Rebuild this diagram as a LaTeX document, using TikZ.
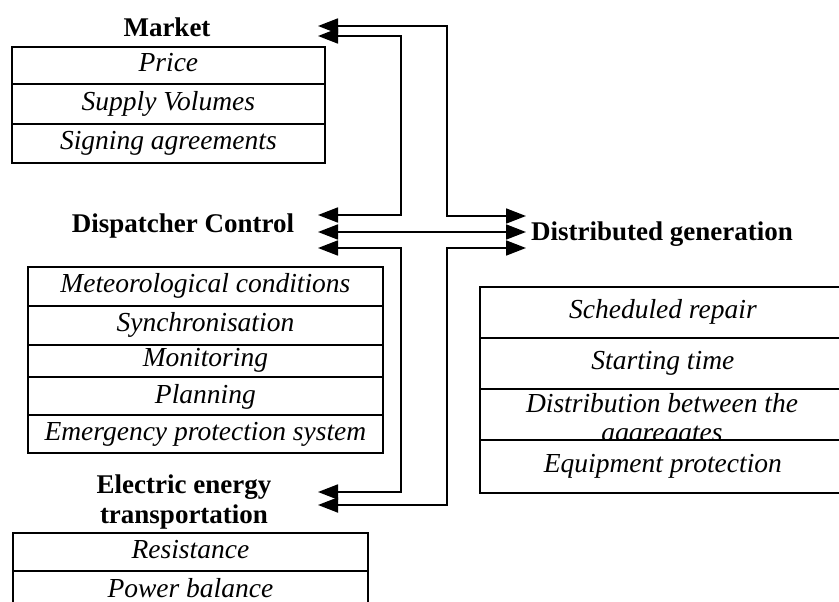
\documentclass[tikz,border=0pt]{standalone}
\usepackage{fontspec}
\setmainfont{Liberation Serif}
\usetikzlibrary{arrows.meta}
\begin{document}
\begin{tikzpicture}[x=1pt,y=-1pt,
  title/.style={font=\fontsize{27}{30}\selectfont\bfseries, inner sep=0pt, anchor=base},
  row/.style={draw, fill=white, line width=1.8pt, anchor=north west, inner sep=0pt,
    font=\fontsize{27.5}{29}\selectfont\itshape, text height=19pt, text depth=6pt},
  itext/.style={font=\fontsize{27.5}{29}\selectfont\itshape, inner sep=0pt, align=center},
  conn/.style={line width=1.8pt, {Triangle[length=20pt,width=15pt]}-{Triangle[length=20pt,width=15pt]}}
]
\useasboundingbox (0,0) rectangle (839,602);
\begin{scope}
\clip (0,0) rectangle (839,602);

% ---- Market
\node[title] (market) at (167,37) {Market};
\node[row, minimum width=313pt, minimum height=37pt] (price) at (11,46) {Price};
\node[row, minimum width=313pt, minimum height=40pt] (supply) at (11,83) {Supply Volumes};
\node[row, minimum width=313pt, minimum height=39pt] (sign) at (11,123) {Signing agreements};

% ---- Dispatcher control
\node[title] (disp) at (183,232) {Dispatcher Control};
\node[row, minimum width=355pt, minimum height=39pt] (meteo) at (27,266) {Meteorological conditions};
\node[row, minimum width=355pt, minimum height=39pt] (sync) at (27,305) {Synchronisation};
\node[row, minimum width=355pt, minimum height=32pt, text height=17pt] (monit) at (27,344) {Monitoring};
\node[row, minimum width=355pt, minimum height=38pt, text height=21pt] (plan) at (27,376) {Planning};
\node[row, minimum width=355pt, minimum height=38pt] (emerg) at (27,414) {Emergency protection system};

% ---- Electric energy transportation
\node[title] (elec1) at (184,493) {Electric energy};
\node[title] (elec2) at (184,523) {transportation};
\node[row, minimum width=355pt, minimum height=38pt] (resist) at (12,532) {Resistance};
\node[row, minimum width=355pt, minimum height=40pt] (power) at (12,570) {Power balance};

% ---- Distributed generation
\node[title, anchor=base west] (dg) at (531,240) {Distributed generation};
\node[row, minimum width=366pt, minimum height=51pt] (sched) at (479,286) {Scheduled repair};
\node[row, minimum width=366pt, minimum height=51pt] (start) at (479,337) {Starting time};
\node[row, minimum width=366pt, minimum height=51pt] (distr) at (479,388) {};
\node[itext] (distrtext) at (662,420) {Distribution between the\\aggregates};
\node[row, minimum width=366pt, minimum height=53pt] (equip) at (479,439) {Equipment protection};

% ---- connector end points
\coordinate (m1) at (318,26);
\coordinate (m2) at (318,36);
\coordinate (d1) at (318,215);
\coordinate (d2) at (318,232);
\coordinate (d3) at (318,248);
\coordinate (g1) at (526,216);
\coordinate (g2) at (526,232);
\coordinate (g3) at (526,248);
\coordinate (e1) at (318,492);
\coordinate (e2) at (318,505);
\coordinate (xi) at (401,0);
\coordinate (xo) at (447,0);

\draw[conn] (m1) -- (m1 -| xo) -- (g1 -| xo) -- (g1);
\draw[conn] (m2) -- (m2 -| xi) -- (d1 -| xi) -- (d1);
\draw[conn] (d2) -- (g2);
\draw[conn] (d3) -- (d3 -| xi) -- (e1 -| xi) -- (e1);
\draw[conn] (g3) -- (g3 -| xo) -- (e2 -| xo) -- (e2);
\end{scope}
\end{tikzpicture}
\end{document}
